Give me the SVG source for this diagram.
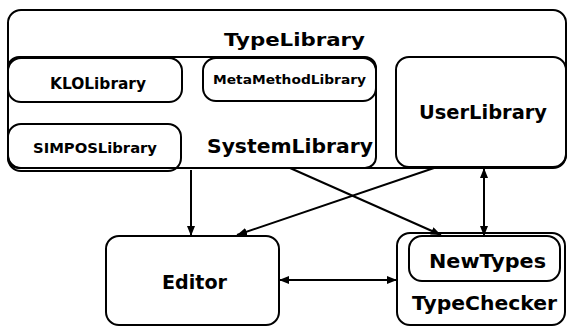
<svg xmlns="http://www.w3.org/2000/svg" width="568" height="326" viewBox="0 0 568 326">
<style>
.box{fill:none;stroke:#000;stroke-width:2}
.t{font-family:"DejaVu Sans","Liberation Sans",sans-serif;font-weight:bold;fill:#000}
.c{stroke:#000;stroke-width:2;fill:none}
</style>
<defs>
<marker id="ah" viewBox="0 0 10 8" refX="10" refY="4" markerWidth="10" markerHeight="8" markerUnits="userSpaceOnUse" orient="auto-start-reverse">
<path d="M0,0 L10,4 L0,8 Z" fill="#000"/>
</marker>
</defs>
<rect width="568" height="326" fill="#fff"/>
<g id="TypeLibrary">
<rect class="box" x="8" y="10" width="558" height="158" rx="13"/>
<text class="t" x="224" y="46" font-size="18" textLength="141" lengthAdjust="spacingAndGlyphs">TypeLibrary</text>
</g>
<g id="SystemLibrary">
<rect class="box" x="8" y="57" width="368" height="111" rx="11"/>
<text class="t" x="207" y="153" font-size="19" textLength="166" lengthAdjust="spacingAndGlyphs">SystemLibrary</text>
</g>
<g id="KLOLibrary">
<rect class="box" x="8" y="58" width="174" height="44" rx="13"/>
<text class="t" x="50" y="89" font-size="15" textLength="96" lengthAdjust="spacingAndGlyphs">KLOLibrary</text>
</g>
<g id="MetaMethodLibrary">
<rect class="box" x="203" y="58" width="173" height="43" rx="13"/>
<text class="t" x="213" y="84" font-size="12" textLength="153" lengthAdjust="spacingAndGlyphs">MetaMethodLibrary</text>
</g>
<g id="SIMPOSLibrary">
<rect class="box" x="8" y="124" width="173" height="47" rx="13"/>
<text class="t" x="33" y="153" font-size="14" textLength="124" lengthAdjust="spacingAndGlyphs">SIMPOSLibrary</text>
</g>
<g id="UserLibrary">
<rect class="box" x="396" y="57" width="170" height="110" rx="13"/>
<text class="t" x="419" y="119" font-size="19" textLength="128" lengthAdjust="spacingAndGlyphs">UserLibrary</text>
</g>
<g id="Editor">
<rect class="box" x="106" y="236" width="173" height="89" rx="13"/>
<text class="t" x="162" y="289" font-size="19" textLength="65" lengthAdjust="spacingAndGlyphs">Editor</text>
</g>
<g id="TypeChecker">
<rect class="box" x="397" y="233" width="168" height="92" rx="13"/>
<text class="t" x="412" y="310" font-size="20" textLength="145" lengthAdjust="spacingAndGlyphs">TypeChecker</text>
</g>
<g id="NewTypes">
<rect class="box" x="409" y="236" width="151" height="45" rx="13"/>
<text class="t" x="429" y="268" font-size="19" textLength="117" lengthAdjust="spacingAndGlyphs">NewTypes</text>
</g>
<g id="connectors">
<line class="c" x1="191" y1="170" x2="191" y2="236" marker-end="url(#ah)"/>
<line class="c" x1="290" y1="168" x2="441" y2="235" marker-end="url(#ah)"/>
<line class="c" x1="434" y1="168" x2="237" y2="235" marker-end="url(#ah)"/>
<line class="c" x1="484" y1="168" x2="484" y2="236" marker-start="url(#ah)" marker-end="url(#ah)"/>
<line class="c" x1="279" y1="280" x2="397" y2="280" marker-start="url(#ah)" marker-end="url(#ah)"/>
</g>
</svg>
